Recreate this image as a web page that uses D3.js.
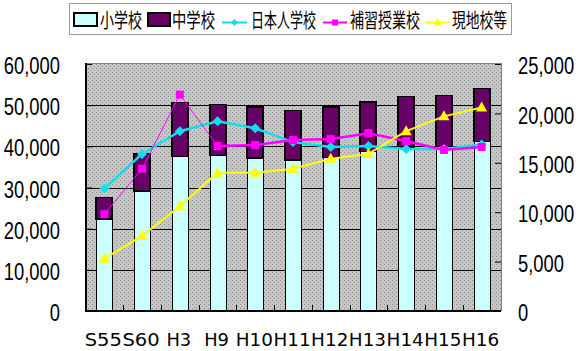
<!DOCTYPE html>
<html>
<head>
<meta charset="utf-8">
<script src="https://cdn.jsdelivr.net/npm/d3@7"></script>
<style>
  body { margin: 0; background: #fff; }
  svg { display: block; }
  .tick text { fill: #000; }
</style>
</head>
<body>
<svg id="chart" width="580" height="351"></svg>
<script>
// categories (years) and values
var categories = ["S55", "S60", "H3", "H9", "H10", "H11", "H12", "H13", "H14", "H15", "H16"];
var elementary = [22300, 29200, 37500, 37800, 37200, 36700, 37300, 38700, 39800, 40000, 41200];
var juniorHigh = [5300, 8900, 13200, 12400, 12400, 12000, 12200, 12100, 12300, 12400, 12800];
var japaneseSchool = [12400, 15900, 18200, 19200, 18500, 17100, 16600, 16700, 16400, 16400, 16850];
var supplementary = [9800, 14400, 21900, 16700, 16800, 17300, 17400, 18000, 17200, 16300, 16600];
var localSchool = [5300, 7600, 10600, 14000, 14000, 14400, 15400, 15900, 18200, 19700, 20600];
var leftTicks = [0, 10000, 20000, 30000, 40000, 50000, 60000];
var rightTicks = [0, 5000, 10000, 15000, 20000, 25000];
var legendNames = ["小学校", "中学校", "日本人学校", "補習授業校", "現地校等"];

var svg = d3.select("#chart");
var plotLeft = 86, plotRight = 501, plotTop = 64, plotBottom = 311;

var x = d3.scaleBand().domain(categories).range([plotLeft - 0.5, plotRight - 0.5])
    .paddingInner(0.576).paddingOuter(0.288);
var yL = d3.scaleLinear().domain([0, 60000]).range([plotBottom, plotTop]);
var yR = d3.scaleLinear().domain([0, 25000]).range([plotBottom, plotTop]);
var fmt = d3.format(",");
var cx = function(i) { return x(categories[i]) + x.bandwidth() / 2; };
var crisp = function(v) { return Math.round(v) + 0.5; };

// stippled grey plot background
var pat = svg.append("defs").append("pattern")
    .attr("id", "stipple").attr("width", 4).attr("height", 4)
    .attr("patternUnits", "userSpaceOnUse");
pat.append("rect").attr("width", 4).attr("height", 4).attr("fill", "#c6c6c6");
pat.append("rect").attr("x", 0).attr("y", 0).attr("width", 1).attr("height", 1).attr("fill", "#8c8c8c");
pat.append("rect").attr("x", 2).attr("y", 2).attr("width", 1).attr("height", 1).attr("fill", "#9a9a9a");

svg.append("rect")
    .attr("x", plotLeft).attr("y", plotTop - 0.5)
    .attr("width", plotRight - plotLeft + 0.5).attr("height", plotBottom - plotTop)
    .attr("fill", "url(#stipple)")
    .attr("stroke", "#808080").attr("stroke-width", 1);

// gridlines
svg.append("g").selectAll("line")
    .data(leftTicks.filter(function(d) { return d > 0 && d < 60000; }))
    .enter().append("line")
    .attr("x1", plotLeft).attr("x2", plotRight)
    .attr("y1", function(d) { return crisp(yL(d)); })
    .attr("y2", function(d) { return crisp(yL(d)); })
    .attr("stroke", "#000").attr("stroke-width", 1);

// stacked bars
var bars = svg.append("g").attr("shape-rendering", "crispEdges");
bars.selectAll(".elem")
    .data(elementary)
    .enter().append("rect")
    .attr("x", function(d, i) { return Math.round(x(categories[i])); })
    .attr("width", Math.round(x.bandwidth()))
    .attr("y", function(d) { return yL(d); })
    .attr("height", function(d) { return yL(0) - yL(d); })
    .attr("fill", "#ccffff").attr("stroke", "#000").attr("stroke-width", 1);
bars.selectAll(".jh")
    .data(juniorHigh)
    .enter().append("rect")
    .attr("x", function(d, i) { return Math.round(x(categories[i])); })
    .attr("width", Math.round(x.bandwidth()))
    .attr("y", function(d, i) { return yL(elementary[i] + d); })
    .attr("height", function(d) { return yL(0) - yL(d); })
    .attr("fill", "#660066").attr("stroke", "#000").attr("stroke-width", 1.5);

// axes lines
svg.append("line").attr("x1", plotLeft).attr("x2", plotLeft).attr("y1", plotTop - 1).attr("y2", plotBottom + 1)
    .attr("stroke", "#000").attr("stroke-width", 2);
svg.append("line").attr("x1", plotLeft - 1).attr("x2", plotRight).attr("y1", plotBottom).attr("y2", plotBottom)
    .attr("stroke", "#000").attr("stroke-width", 2);

// left axis
var axL = svg.append("g")
    .attr("transform", "translate(" + plotLeft + ",0)")
    .call(d3.axisLeft(yL).tickValues(leftTicks).tickFormat(fmt).tickSize(-6).tickPadding(26));
axL.select(".domain").remove();
axL.selectAll(".tick line").attr("stroke", "#000");

// right axis
var axR = svg.append("g")
    .attr("transform", "translate(" + plotRight + ",0)")
    .call(d3.axisRight(yR).tickValues(rightTicks).tickFormat(fmt).tickSize(-6).tickPadding(17));
axR.select(".domain").remove();
axR.selectAll(".tick line").attr("stroke", "#000");

// narrow, tall tick digits like the original
var squeeze = 0.8;
[axL, axR].forEach(function(ax) {
  ax.selectAll(".tick text")
    .style("font-family", "'Liberation Sans', Arial, sans-serif")
    .style("font-size", "23px")
    .attr("dy", "0.42em")
    .attr("x", function() { return +d3.select(this).attr("x") / squeeze; })
    .attr("transform", "scale(" + squeeze + ",1)");
});

// bottom axis: ticks between categories, labels centred
svg.append("g").selectAll("line")
    .data(categories.slice(1))
    .enter().append("line")
    .attr("x1", function(d) { return crisp(x(d) - (x.step() - x.bandwidth()) / 2); })
    .attr("x2", function(d) { return crisp(x(d) - (x.step() - x.bandwidth()) / 2); })
    .attr("y1", plotBottom).attr("y2", plotBottom - 6)
    .attr("stroke", "#000");

svg.append("g").selectAll("text")
    .data(categories)
    .enter().append("text")
    .attr("x", function(d, i) { return cx(i) - 1; })
    .attr("y", 346)
    .attr("text-anchor", "middle")
    .style("font-family", "'DejaVu Sans', sans-serif")
    .style("font-size", "17px")
    .attr("textLength", function(d) { return d.length * 12.4; })
    .attr("lengthAdjust", "spacingAndGlyphs")
    .text(function(d) { return d; });

// line series
var diamond = "M0,-5L5,0L0,5L-5,0Z";
var square = "M-4,-4H4V4H-4Z";
var triangle = "M0,-6L5.5,4L-5.5,4Z";

function drawSeries(values, color, width, marker, thinUntil) {
  var g = svg.append("g");
  var line = d3.line()
      .x(function(d) { return cx(d.i); })
      .y(function(d) { return yR(d.v); });
  var pts = values.map(function(v, i) { return { v: v, i: i }; });
  if (thinUntil) {
    g.append("path").attr("d", line(pts.slice(0, thinUntil + 1)))
      .attr("fill", "none").attr("stroke", color).attr("stroke-width", 1);
    g.append("path").attr("d", line(pts.slice(thinUntil)))
      .attr("fill", "none").attr("stroke", color).attr("stroke-width", width);
  } else {
    g.append("path").attr("d", line(pts))
      .attr("fill", "none").attr("stroke", color).attr("stroke-width", width);
  }
  g.selectAll(".m")
      .data(pts)
      .enter().append("path")
      .attr("d", marker)
      .attr("transform", function(d) { return "translate(" + cx(d.i) + "," + yR(d.v) + ")"; })
      .attr("fill", color);
}

drawSeries(japaneseSchool, "#11dded", 2.5, diamond);
drawSeries(supplementary, "#ff00ff", 2.5, square, 3);
drawSeries(localSchool, "#ffff00", 2, triangle);

// legend
var legend = svg.append("g");
legend.append("rect")
    .attr("x", 69.5).attr("y", 3.5).attr("width", 442).attr("height", 31)
    .attr("fill", "#fff").attr("stroke", "#333").attr("stroke-dasharray", "1,1");

var symX = [73, 147, 222, 323, 425];
var symW = [25, 24, 25, 24, 25];
var textX = [100, 172, 251, 350, 452];
var textW = [42, 43, 65, 70, 55];
var swatchFill = ["#ccffff", "#660066"];
var lineColor = [null, null, "#11dded", "#ff00ff", "#ffff00"];
var lineMarker = [null, null, "M0,-3.5L3.5,0L0,3.5L-3.5,0Z", "M-3,-3H3V3H-3Z", "M0,-4.5L4,3L-4,3Z"];

legendNames.forEach(function(name, i) {
  if (i < 2) {
    legend.append("rect")
      .attr("x", symX[i] + 1).attr("y", 13).attr("width", symW[i] - 2).attr("height", 13)
      .attr("fill", swatchFill[i]).attr("stroke", "#000").attr("stroke-width", 2);
  } else {
    legend.append("line")
      .attr("x1", symX[i]).attr("x2", symX[i] + symW[i])
      .attr("y1", 22.5).attr("y2", 22.5)
      .attr("stroke", lineColor[i]).attr("stroke-width", 2);
    legend.append("path")
      .attr("d", lineMarker[i])
      .attr("transform", "translate(" + (symX[i] + symW[i] / 2) + ",22.5)")
      .attr("fill", lineColor[i]);
  }
  legend.append("text")
    .attr("x", textX[i]).attr("y", 28)
    .style("font-family", "'Noto Sans CJK JP', sans-serif")
    .style("font-size", "20px")
    .attr("textLength", textW[i])
    .attr("lengthAdjust", "spacingAndGlyphs")
    .text(name);
});
</script>
</body>
</html>
